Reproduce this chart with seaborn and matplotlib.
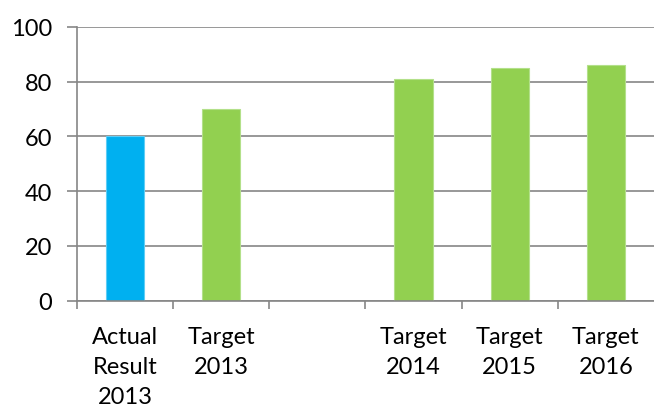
import matplotlib
matplotlib.use("Agg")
import matplotlib.pyplot as plt
import seaborn as sns
import pandas as pd
import numpy as np

categories = ["Actual\nResult\n2013", "Target\n2013", " ", "Target\n2014", "Target\n2015", "Target\n2016"]
values = [60, 70, np.nan, 81, 85, 86]
bar_colors = ["#00B0F0", "#92D050", "#92D050", "#92D050", "#92D050", "#92D050"]
edge_colors = ["#5fcdf5", "#b3e08a", "#b3e08a", "#b3e08a", "#b3e08a", "#b3e08a"]
y_ticks = [0, 20, 40, 60, 80, 100]

sns.set_theme(style="white")
plt.rcParams["font.family"] = ["Lato", "DejaVu Sans"]

df = pd.DataFrame({"cat": categories, "val": values})

fig = plt.figure(figsize=(6.54, 4.10), dpi=100)
ax = fig.add_axes([77 / 654, 1 - 301.7 / 410, 1 - 77 / 654, (301.7 - 28) / 410])

sns.barplot(data=df, x="cat", y="val", order=categories, hue="cat",
            palette=dict(zip(categories, bar_colors)), legend=False, saturation=1,
            width=0.4, ax=ax, zorder=3)

for p, ec in zip([p for p in ax.patches], [e for c, e, v in zip(categories, edge_colors, values) if not np.isnan(v)]):
    p.set_edgecolor(ec)
    p.set_linewidth(0.8)

grey = "#868686"
ax.set_xlim(-0.5, 5.5)
ax.set_ylim(0, 100)
ax.set_yticks(y_ticks)
ax.yaxis.grid(True, color=grey, linewidth=1.2, zorder=0)
ax.set_axisbelow(True)
ax.set_xlabel("")
ax.set_ylabel("")

ax.set_xticks(range(len(categories)))
ax.set_xticklabels(categories, fontsize=17, linespacing=1.55)
ax.set_xticks(np.arange(-0.5, 5.0, 1.0), minor=True)
ax.tick_params(axis="x", which="major", length=0, pad=18, colors="black")
ax.tick_params(axis="x", which="minor", length=6, width=1.2, color=grey, direction="out", bottom=True)
ax.tick_params(axis="y", which="major", length=7, width=1.2, color=grey, direction="out", left=True,
               labelsize=17, pad=11, labelcolor="black")

for s in ["top", "right"]:
    ax.spines[s].set_visible(False)
for s in ["left", "bottom"]:
    ax.spines[s].set_color(grey)
    ax.spines[s].set_linewidth(1.2)
    ax.spines[s].set_zorder(4)

fig.savefig("out.png", dpi=100)
